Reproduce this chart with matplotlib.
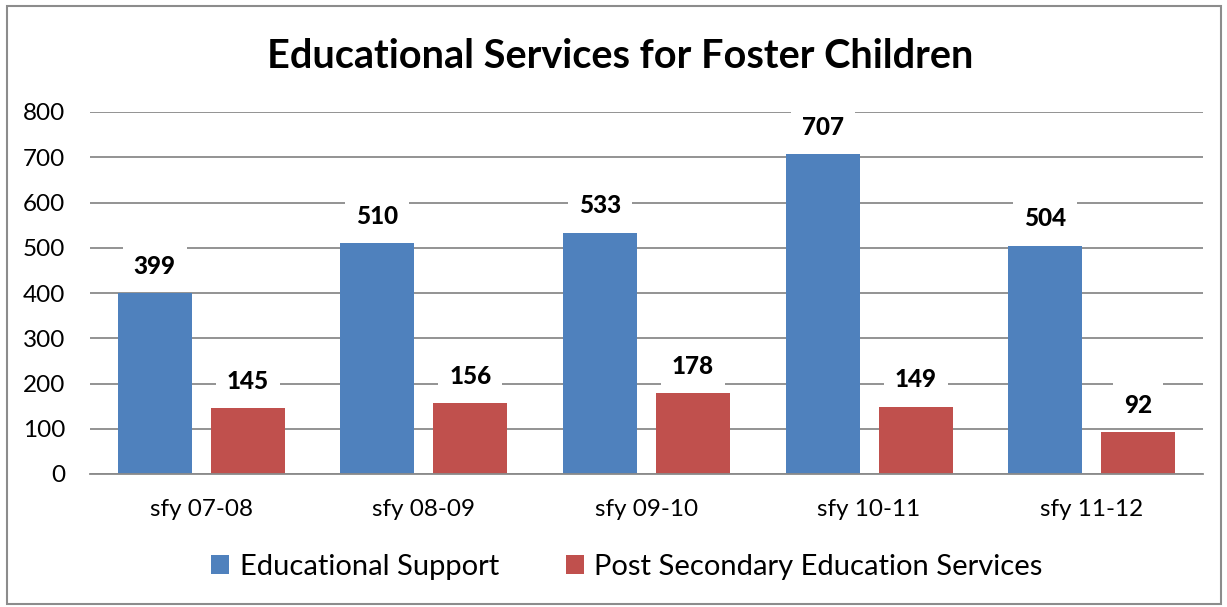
import matplotlib
matplotlib.use("Agg")
import matplotlib.pyplot as plt
import numpy as np
from matplotlib.patches import Rectangle, Patch

categories = ["sfy 07-08", "sfy 08-09", "sfy 09-10", "sfy 10-11", "sfy 11-12"]
educational_support = [399, 510, 533, 707, 504]
post_secondary = [145, 156, 178, 149, 92]
series_names = ["Educational Support", "Post Secondary Education Services"]
title = "Educational Services for Foster Children"
yticks = [0, 100, 200, 300, 400, 500, 600, 700, 800]

plt.rcParams['font.family'] = ['Lato', 'DejaVu Sans']

W, H = 1227, 607
fig = plt.figure(figsize=(W / 100, H / 100), dpi=100)
fig.patch.set_facecolor("white")

# chart border
fig.add_artist(Rectangle((7 / W, 3 / H), (1221 - 7) / W, (601 - 3) / H,
                         transform=fig.transFigure, fill=False,
                         edgecolor="#8c8c8c", linewidth=1.5))

left, right, top, bottom = 90, 1203, 112, 474
ax = fig.add_axes([left / W, (H - bottom) / H, (right - left) / W, (bottom - top) / H])

x = np.arange(len(categories))
bw = 0.333
off = 0.209
blue = "#4F81BD"
red = "#C0504D"

ax.set_xlim(-0.5, len(categories) - 0.5)
ax.set_ylim(0, 800)
ax.set_yticks(yticks)
ax.yaxis.grid(True, color="#8a8a8a", linewidth=1.3)
ax.set_axisbelow(True)
for s in ["left", "right", "top"]:
    ax.spines[s].set_visible(False)
ax.spines["bottom"].set_color("#8a8a8a")
ax.spines["bottom"].set_linewidth(1.3)
ax.tick_params(axis="both", length=0, labelsize=17.5)
ax.tick_params(axis="y", pad=18)
ax.tick_params(axis="x", pad=18)
ax.set_xticks(x)
ax.set_xticklabels(categories)

b1 = ax.bar(x - off, educational_support, bw, color=blue, zorder=2)
b2 = ax.bar(x + off, post_secondary, bw, color=red, zorder=2)

for bars, vals in ((b1, educational_support), (b2, post_secondary)):
    for rect, v in zip(bars, vals):
        ax.annotate(str(v), (rect.get_x() + rect.get_width() / 2, v),
                    xytext=(0, 27), textcoords="offset pixels",
                    ha="center", va="center", fontsize=17.5, fontweight="black",
                    bbox=dict(boxstyle="square,pad=0.45", fc="white", ec="none"),
                    zorder=3)

fig.text(620 / W, 1 - 56 / H, title, ha="center", va="center",
         fontsize=28.5, fontweight="bold")

handles = [Patch(facecolor=blue), Patch(facecolor=red)]
fig.legend(handles, series_names, loc="center", bbox_to_anchor=(627 / W, 1 - 567 / H),
           ncol=2, frameon=False, fontsize=21, handlelength=0.62, handleheight=0.62,
           handletextpad=0.35, columnspacing=2.3)

fig.savefig("out.png", dpi=100)
